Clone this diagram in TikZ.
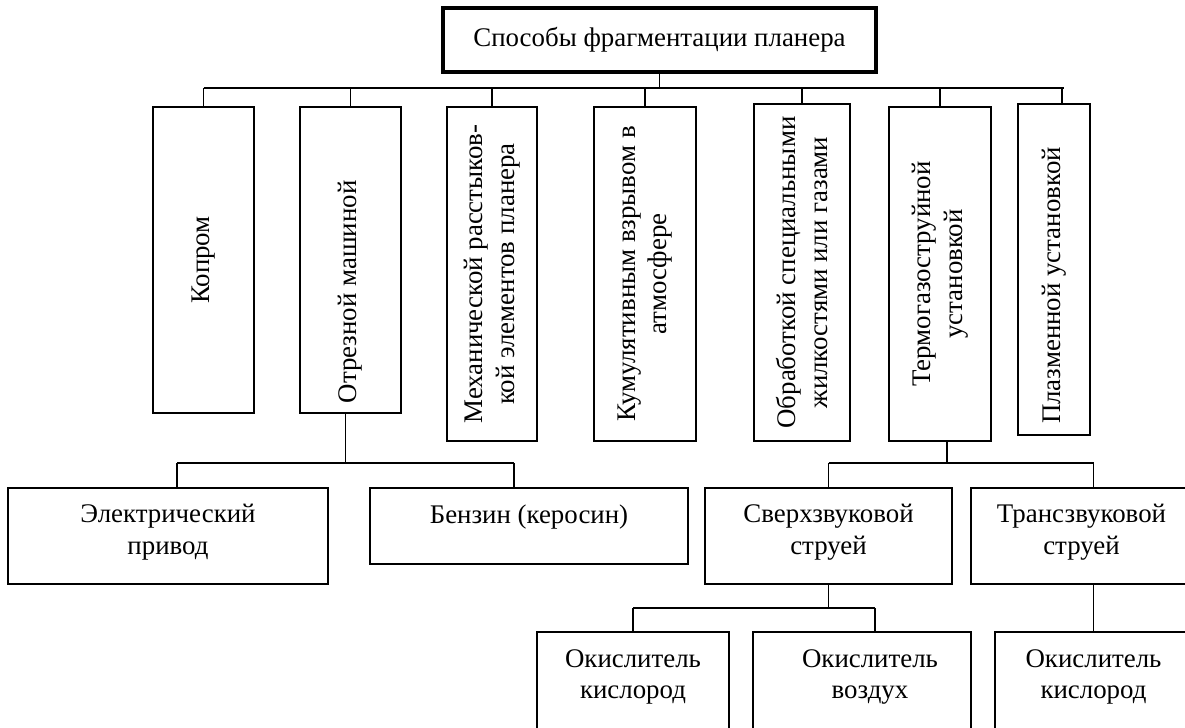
\documentclass[tikz,border=0pt]{standalone}
\usepackage{fontspec}
\setmainfont{Liberation Serif}
\usetikzlibrary{positioning,calc,fit}
\tikzset{
    box/.style={draw, line width=1.1pt, inner sep=0pt},
    rootbox/.style={draw, line width=2.3pt, inner sep=0pt},
    lbl/.style={font=\fontsize{15.3}{18}\selectfont, align=center, inner sep=0pt},
    vlbl/.style={lbl, rotate=90},
    wire/.style={line width=0.9pt},
}

\begin{document}
\begin{tikzpicture}[x=0.02cm, y=-0.02cm]
    \useasboundingbox (0,0) rectangle (1185,727);
    \clip (0,0) rectangle (1185,727);
    % Root
    \node[rootbox, fit={(443,8) (876,72)}] (root) {};
    \node[lbl] (rootT) at (root.center) {Способы фрагментации планера};
    % First level (vertical text)
    \node[box, fit={(153,107) (254,413)}] (kop) {};
    \node[box, fit={(300,107) (401,413)}] (otr) {};
    \node[box, fit={(447,107) (537,441)}] (mex) {};
    \node[box, fit={(594,107) (696,441)}] (kum) {};
    \node[box, fit={(754,104) (850,441)}] (obr) {};
    \node[box, fit={(889,107) (991,441)}] (trm) {};
    \node[box, fit={(1018,104) (1090,435)}] (plz) {};
    \node[vlbl] (kopT) at (kop.center) {Копром};
    \node[vlbl] (otrT) at ($(otr.center)+(0,32)$) {Отрезной машиной};
    \node[vlbl] (mexT) at (mex.center) {Механической расстыков-\\кой элементов планера};
    \node[vlbl] (kumT) at (kum.center) {Кумулятивным взрывом в\\атмосфере};
    \node[vlbl] (obrT) at (obr.center) {Обработкой специальными\\жилкостями или газами};
    \node[vlbl] (trmT) at (trm.center) {Термогазоструйной\\установкой};
    \node[vlbl] (plzT) at ($(plz.center)+(0,16)$) {Плазменной установкой};
    % Second level
    \node[box, fit={(8,488) (328,584)}] (el) {};
    \node[box, fit={(370,488) (688,564)}] (bz) {};
    \node[box, fit={(705,488) (952,584)}] (sv) {};
    \node[box, fit={(971,488) (1192,584)}] (tr) {};
    \node[lbl, anchor=north] (elT) at ($(el.north)+(0,17)$) {Электрический\\привод};
    \node[lbl, anchor=north] (bzT) at ($(bz.north)+(0,17)$) {Бензин (керосин)};
    \node[lbl, anchor=north] (svT) at ($(sv.north)+(0,17)$) {Сверхзвуковой\\струей};
    \node[lbl, anchor=north] (trT) at ($(tr.north)+(0,17)$) {Трансзвуковой\\струей};
    % Third level
    \node[box, fit={(537,632) (729,740)}] (ox1) {};
    \node[box, fit={(753,632) (971,740)}] (oxa) {};
    \node[box, fit={(995,632) (1192,740)}] (ox3) {};
    \node[lbl, anchor=north] (ox1T) at ($(ox1.north)+(0,18)$) {Окислитель\\кислород};
    \node[lbl, anchor=north] (oxaT) at ($(oxa.north)+(8,18)$) {Окислитель\\воздух};
    \node[lbl, anchor=north] (ox3T) at ($(ox3.north)+(0,18)$) {Окислитель\\кислород};
    % Buses
    \coordinate (bus) at (0,88);
    \coordinate (bus2) at (0,463);
    \coordinate (bus3) at (0,608);
    \draw[wire] (root.south) -- (root.south |- bus);
    \draw[wire] (kop.north |- bus) -- ($(plz.north |- bus)+(10,0)$);
    \foreach \n in {kop,otr,mex,kum,obr,trm} {
        \draw[wire] (\n.north) -- (\n.north |- bus);
    }
    \draw[wire] ($(plz.north)+(8,0)$) -- ($(plz.north |- bus)+(8,0)$);
    % Cutting machine
    \draw[wire] ($(otr.south)+(-5,0)$) -- ($(otr.south |- bus2)+(-5,0)$);
    \draw[wire] ($(el.north |- bus2)+(9,0)$) -- ($(bz.north |- bus2)+(-15,0)$);
    \draw[wire] ($(el.north)+(9,0)$) -- ($(el.north |- bus2)+(9,0)$);
    \draw[wire] ($(bz.north)+(-15,0)$) -- ($(bz.north |- bus2)+(-15,0)$);
    % Thermo jet
    \draw[wire] ($(trm.south)+(7,0)$) -- ($(trm.south |- bus2)+(7,0)$);
    \draw[wire] (sv.north |- bus2) -- (ox3.north |- bus2);
    \draw[wire] (sv.north) -- (sv.north |- bus2);
    \draw[wire] (ox3.north |- tr.north) -- (ox3.north |- bus2);
    \draw[wire] (sv.south) -- (sv.south |- bus3);
    \draw[wire] (ox1.north |- bus3) -- ($(oxa.north |- bus3)+(13,0)$);
    \draw[wire] (ox1.north) -- (ox1.north |- bus3);
    \draw[wire] ($(oxa.north)+(13,0)$) -- ($(oxa.north |- bus3)+(13,0)$);
    \draw[wire] (ox3.north |- tr.south) -- (ox3.north);
\end{tikzpicture}
\end{document}
